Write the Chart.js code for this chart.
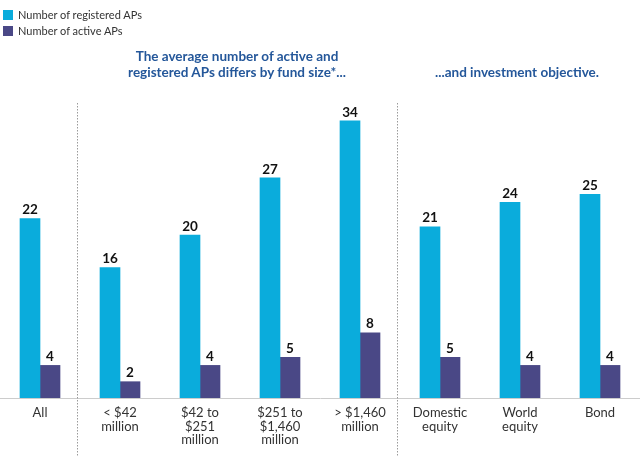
<!DOCTYPE html>
<html>
<head>
<meta charset="utf-8">
<script src="https://cdn.jsdelivr.net/npm/chart.js@4"></script>
<style>
  html, body { margin: 0; padding: 0; background: #fff; }
  #wrap { position: relative; width: 640px; height: 457px; font-family: Lato, "Open Sans", sans-serif; }
  canvas { position: absolute; left: 0; top: 0; }
  .legenda { position: absolute; left: 3px; top: 7px; font-size: 11px; color: #333; line-height: 16px; }
  .legenda span.box { display: inline-block; width: 10px; height: 10px; margin-right: 5px; vertical-align: -1px; }
  .titulo { position: absolute; color: #24579a; font-weight: bold; font-size: 13.5px; line-height: 16px; text-align: center; }
</style>
</head>
<body>
<div id="wrap">
  <canvas id="grafico" width="640" height="457"></canvas>
  <div class="legenda">
    <div><span class="box" style="background:#0aacdc"></span>Number of registered APs</div>
    <div><span class="box" style="background:#4a4886"></span>Number of active APs</div>
  </div>
  <div class="titulo" style="left:87px; top:48px; width:300px;">The average number of active and<br>registered APs differs by fund size*...</div>
  <div class="titulo" style="left:407px; top:64px; width:220px;">...and investment objective.</div>
</div>
<script>
const categorias = [
    ["All"],
    ["< $42", "million"],
    ["$42 to", "$251", "million"],
    ["$251 to", "$1,460", "million"],
    ["> $1,460", "million"],
    ["Domestic", "equity"],
    ["World", "equity"],
    ["Bond"]
];
const registrados = [22, 16, 20, 27, 34, 21, 24, 25];
const ativos = [4, 2, 4, 5, 8, 5, 4, 4];
const separadores = [0.5, 4.5];

const pluginRotulos = {
    id: 'rotulos',
    afterDatasetsDraw(chart) {
        const ctx = chart.ctx;
        ctx.save();
        ctx.font = 'bold 13.5px Lato, sans-serif';
        ctx.fillStyle = '#111';
        ctx.textAlign = 'center';
        ctx.textBaseline = 'bottom';
        chart.data.datasets.forEach((ds, i) => {
            chart.getDatasetMeta(i).data.forEach((bar, j) => {
                ctx.fillText(ds.data[j], bar.x, bar.y - 2);
            });
        });
        ctx.restore();
    }
};

const pluginSeparadores = {
    id: 'separadores',
    beforeDatasetsDraw(chart) {
        const ctx = chart.ctx;
        const x = chart.scales.x;
        ctx.save();
        ctx.strokeStyle = '#9a9a9a';
        ctx.lineWidth = 1;
        ctx.setLineDash([1.5, 1.5]);
        separadores.forEach(p => {
            const px = Math.round(x.getPixelForValue(p)) - 2.5;
            ctx.beginPath();
            ctx.moveTo(px, 103);
            ctx.lineTo(px, chart.height);
            ctx.stroke();
        });
        ctx.restore();
    }
};

new Chart(document.getElementById('grafico').getContext('2d'), {
    type: 'bar',
    data: {
        labels: categorias,
        datasets: [{
            label: 'Number of registered APs',
            data: registrados,
            backgroundColor: '#0aacdc',
            barThickness: 20
        }, {
            label: 'Number of active APs',
            data: ativos,
            backgroundColor: '#4a4886',
            barThickness: 20
        }]
    },
    options: {
        responsive: false,
        animation: false,
        categoryPercentage: 0.575,
        layout: { padding: { top: 72, left: 0, right: 0, bottom: 0 } },
        plugins: {
            legend: { display: false },
            tooltip: { enabled: false }
        },
        scales: {
            x: {
                grid: { display: false, drawTicks: false },
                border: { display: true, color: '#cccccc' },
                ticks: {
                    color: '#333',
                    font: { size: 13, family: 'Lato, sans-serif', lineHeight: 1.05 },
                    padding: 8,
                    maxRotation: 0,
                    autoSkip: false
                },
                afterFit(scale) { scale.height = 59; }
            },
            y: {
                display: false,
                min: 0,
                max: 40
            }
        }
    },
    plugins: [pluginSeparadores, pluginRotulos]
});
</script>
</body>
</html>
